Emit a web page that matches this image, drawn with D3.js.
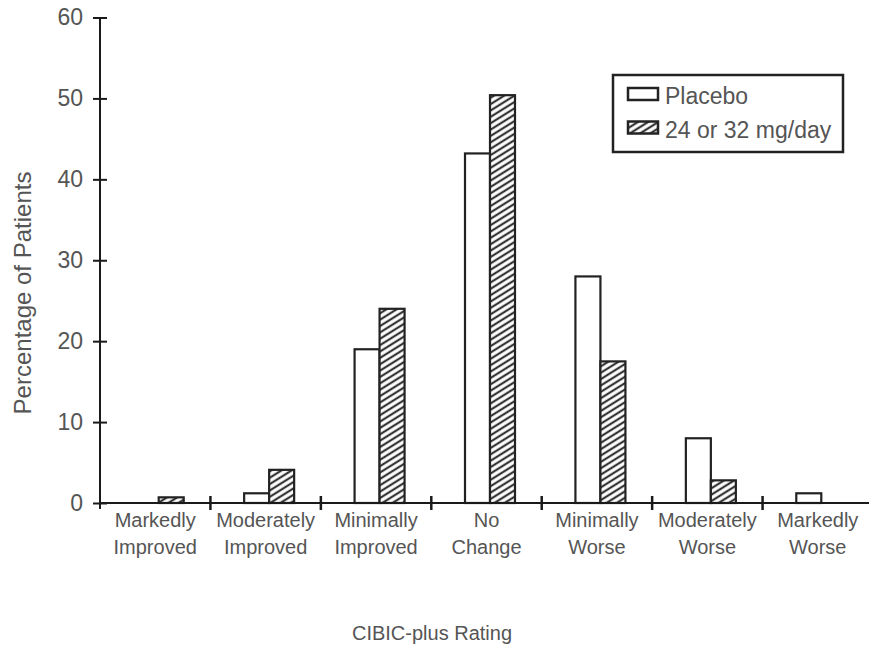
<!DOCTYPE html>
<html>
<head>
<meta charset="utf-8">
<script src="https://cdn.jsdelivr.net/npm/d3@7"></script>
<style>
  body { margin: 0; background: #fff; }
  text { font-family: "Liberation Sans", Arial, sans-serif; fill: #555; }
</style>
</head>
<body>
<script>
// CIBIC-plus rating distribution

var categories = [
  ['Markedly', 'Improved'],
  ['Moderately', 'Improved'],
  ['Minimally', 'Improved'],
  ['No', 'Change'],
  ['Minimally', 'Worse'],
  ['Moderately', 'Worse'],
  ['Markedly', 'Worse']
];
var placebo = [0, 1.2, 19, 43.2, 28, 8, 1.2];
var drug = [0.7, 4.1, 24, 50.4, 17.5, 2.8, 0];
var yTicks = [0, 10, 20, 30, 40, 50, 60];
var seriesNames = ['Placebo', '24 or 32 mg/day'];

var svgWidth = 869;
var svgHeight = 645;

var svg = d3.select('body').append('svg')
  .attr('width', svgWidth)
  .attr('height', svgHeight);

// hatch pattern for the drug bars
var defs = svg.append('defs');
defs.append('pattern')
  .attr('id', 'hatch')
  .attr('patternUnits', 'userSpaceOnUse')
  .attr('width', 10)
  .attr('height', 5.4)
  .attr('patternTransform', 'rotate(-32)')
  .call(function(p) {
    p.append('rect').attr('width', 10).attr('height', 5.4).attr('fill', '#fff');
    p.append('line')
      .attr('x1', 0).attr('x2', 10)
      .attr('y1', 2.7).attr('y2', 2.7)
      .attr('stroke', '#333')
      .attr('stroke-width', 2.2);
  });

var keys = d3.range(categories.length);

var xScale = d3.scaleBand()
  .domain(keys)
  .range([100, 873]);

var yScale = d3.scaleLinear()
  .domain([0, 60])
  .range([503, 17.5]);

var barW = 25;
var offset = -21.5;

// Bars
var bars = svg.append('g');
bars.selectAll('rect.placebo')
  .data(placebo.map(function(v, i) { return {i: i, v: v}; }).filter(function(d) { return d.v > 0; }))
  .enter()
  .append('rect')
  .attr('class', 'placebo')
  .attr('x', function(d) { return xScale(d.i) + xScale.bandwidth() / 2 + offset; })
  .attr('y', function(d) { return yScale(d.v); })
  .attr('width', barW)
  .attr('height', function(d) { return yScale(0) - yScale(d.v); })
  .attr('fill', '#fff')
  .attr('stroke', '#222')
  .attr('stroke-width', 2.2);

bars.selectAll('rect.drug')
  .data(drug.map(function(v, i) { return {i: i, v: v}; }).filter(function(d) { return d.v > 0; }))
  .enter()
  .append('rect')
  .attr('class', 'drug')
  .attr('x', function(d) { return xScale(d.i) + xScale.bandwidth() / 2 + offset + barW; })
  .attr('y', function(d) { return yScale(d.v); })
  .attr('width', barW)
  .attr('height', function(d) { return yScale(0) - yScale(d.v); })
  .attr('fill', 'url(#hatch)')
  .attr('stroke', '#222')
  .attr('stroke-width', 2.2);

// Y axis
var leftAxis = d3.axisLeft(yScale)
  .tickValues(yTicks)
  .tickSize(7)
  .tickPadding(10);

var yAxis = svg.append('g')
  .attr('transform', 'translate(100, 0)')
  .call(leftAxis);
yAxis.select('.domain').remove();
yAxis.selectAll('.tick line')
  .attr('x1', 7)
  .attr('stroke', '#1a1a1a')
  .attr('stroke-width', 2);
yAxis.selectAll('.tick text')
  .attr('font-size', 23)
  .attr('font-family', '"Liberation Sans", Arial, sans-serif')
  .attr('fill', '#555');
yAxis.append('line')
  .attr('y1', yScale(60))
  .attr('y2', yScale(0) + 6)
  .attr('stroke', '#1a1a1a')
  .attr('stroke-width', 2);

// X axis
var xAxis = svg.append('g');
xAxis.append('line')
  .attr('x1', 100)
  .attr('x2', svgWidth)
  .attr('y1', yScale(0))
  .attr('y2', yScale(0))
  .attr('stroke', '#1a1a1a')
  .attr('stroke-width', 2);
xAxis.selectAll('line.tick')
  .data(keys.slice(1))
  .enter()
  .append('line')
  .attr('class', 'tick')
  .attr('x1', function(d) { return xScale(d); })
  .attr('x2', function(d) { return xScale(d); })
  .attr('y1', yScale(0) - 7)
  .attr('y2', yScale(0) + 7)
  .attr('stroke', '#1a1a1a')
  .attr('stroke-width', 2.5);

var labels = xAxis.selectAll('text.cat')
  .data(keys)
  .enter()
  .append('text')
  .attr('class', 'cat')
  .attr('text-anchor', 'middle')
  .attr('font-size', 20);
labels.append('tspan')
  .attr('x', function(d) { return xScale(d) + xScale.bandwidth() / 2; })
  .attr('y', 527)
  .text(function(d) { return categories[d][0]; });
labels.append('tspan')
  .attr('x', function(d) { return xScale(d) + xScale.bandwidth() / 2; })
  .attr('y', 554)
  .text(function(d) { return categories[d][1]; });

// Axis titles
svg.append('text')
  .attr('x', 432)
  .attr('y', 640)
  .attr('text-anchor', 'middle')
  .attr('font-size', 20)
  .text('CIBIC-plus Rating');

svg.append('text')
  .attr('transform', 'rotate(-90)')
  .attr('x', -293)
  .attr('y', 31)
  .attr('text-anchor', 'middle')
  .attr('font-size', 24)
  .text('Percentage of Patients');

// Legend
var legend = svg.append('g');
legend.append('rect')
  .attr('x', 613)
  .attr('y', 75)
  .attr('width', 230)
  .attr('height', 77)
  .attr('fill', '#fff')
  .attr('stroke', '#222')
  .attr('stroke-width', 2.5);

var items = legend.selectAll('g.item')
  .data(seriesNames)
  .enter()
  .append('g')
  .attr('class', 'item')
  .attr('transform', function(d, i) { return 'translate(0,' + (i * 33.5) + ')'; });
items.append('rect')
  .attr('x', 628)
  .attr('y', 88)
  .attr('width', 30)
  .attr('height', 12)
  .attr('fill', function(d, i) { return i === 0 ? '#fff' : 'url(#hatch)'; })
  .attr('stroke', '#222')
  .attr('stroke-width', 2.5);
items.append('text')
  .attr('x', 665)
  .attr('y', 104)
  .attr('font-size', 23)
  .text(function(d) { return d; });
</script>
</body>
</html>
